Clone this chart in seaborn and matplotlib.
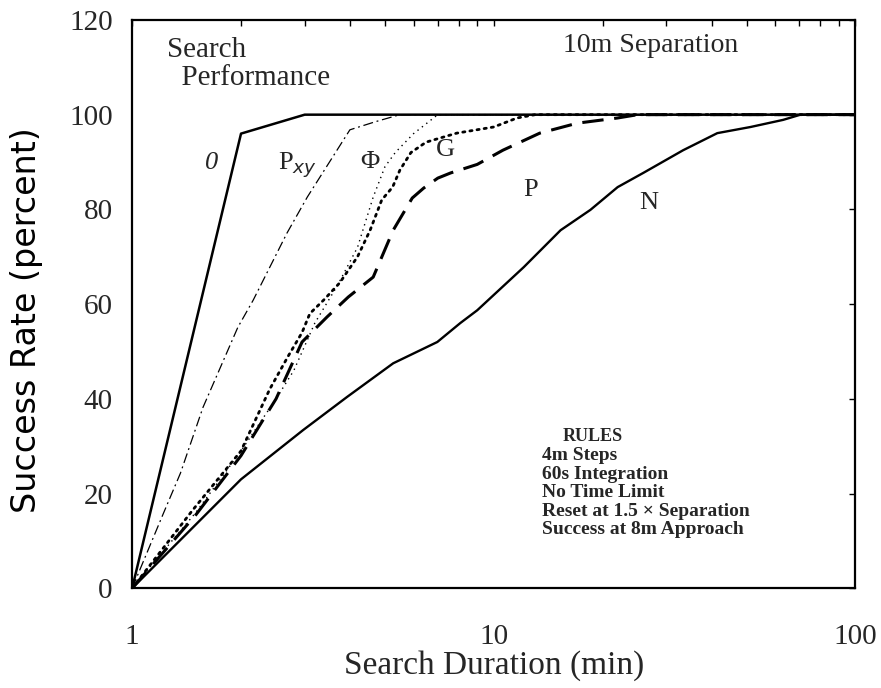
import matplotlib
matplotlib.use("Agg")
import matplotlib.pyplot as plt
import seaborn as sns

sns.set_theme(style="white")
plt.rcParams["font.family"] = ["Liberation Serif", "DejaVu Serif"]

# search duration (min) / success rate (percent)
x_zero = [1, 2.0, 3.0, 100]
y_zero = [0, 96, 100, 100]

x_pxy = [1, 1.22, 1.36, 1.57, 1.96, 2.16, 2.68, 3.05, 4.0, 4.7, 5.5, 100]
y_pxy = [0, 15.8, 24.3, 38.2, 55.1, 60.8, 75, 82.6, 96.8, 98.5, 100, 100]

x_phi = [1, 1.5, 2.0, 2.5, 2.8, 3.2, 3.7, 4.2, 4.64, 5.0, 5.34, 6.0, 7.0, 100]
y_phi = [0, 16, 29, 40, 46, 56, 64, 72, 82.6, 89, 92, 96, 100, 100]

x_g = [1, 1.47, 2.0, 2.4, 2.7, 2.95, 3.1, 3.4, 3.75, 4.2, 4.55, 4.9, 5.25,
       5.5, 5.9, 6.5, 7.9, 10, 11.6, 13, 100]
y_g = [0, 16.5, 29, 42, 49, 54, 58, 61, 64.5, 70, 75.6, 82, 84.7,
       88.3, 92, 94.2, 96.1, 97.4, 99.3, 100, 100]

x_p = [1, 1.5, 2.0, 2.5, 2.95, 3.46, 3.96, 4.64, 5.27, 5.95, 6.4, 7.0, 7.6,
       9.0, 10.6, 13.4, 17, 22, 25, 100]
y_p = [0, 15.5, 28, 40, 52, 57.3, 61.5, 65.7, 75.6, 82.4, 84.5, 86.6, 87.7,
       89.5, 92.5, 96.1, 98.2, 99.3, 100, 100]

x_n = [1, 2.0, 2.97, 3.93, 5.27, 6.98, 8.08, 9.0, 12.1, 15.3, 18.5, 22, 25.9,
       33.4, 41.5, 51.3, 63.1, 70.5, 100]
y_n = [0, 23, 33.4, 40.4, 47.5, 52, 56, 58.7, 67.8, 75.6, 79.9, 84.7, 87.7,
       92.5, 96.1, 97.4, 98.9, 100, 100]

curve_labels = ["0", r"P$_{xy}$", "\u03a6", "G", "P", "N"]
label_x = [1.66, 2.86, 4.55, 7.34, 12.6, 26.8]
label_y = [89.8, 89.4, 90.0, 92.5, 84.1, 81.3]

rules = ["RULES", "4m Steps", "60s Integration", "No Time Limit",
         "Reset at 1.5 \u00d7 Separation", "Success at 8m Approach"]

fig = plt.figure(figsize=(8.81, 6.88), dpi=100)
ax = fig.add_axes([0.150, 0.145, 0.821, 0.826])

sns.lineplot(x=x_zero, y=y_zero, ax=ax, color="black", lw=1.8, sort=False, estimator=None)
sns.lineplot(x=x_pxy, y=y_pxy, ax=ax, color="black", lw=0.9, sort=False, estimator=None,
             linestyle=(0, (8, 3, 1.5, 3)))
sns.lineplot(x=x_phi, y=y_phi, ax=ax, color="black", lw=1.0, sort=False, estimator=None,
             linestyle=(0, (1, 3)))
sns.lineplot(x=x_g, y=y_g, ax=ax, color="black", lw=2.0, sort=False, estimator=None,
             linestyle=(0, (0.8, 1.8)), dash_capstyle="round")
sns.lineplot(x=x_p, y=y_p, ax=ax, color="black", lw=2.2, sort=False, estimator=None,
             linestyle=(0, (7, 3.5)))
sns.lineplot(x=x_n, y=y_n, ax=ax, color="black", lw=1.7, sort=False, estimator=None)

ax.set_xscale("log")
ax.set_xlim(1, 100)
ax.set_ylim(0, 120)
ax.set_xticks([1, 10, 100])
ax.set_xticklabels(["1", "10", "100"])
ax.set_yticks(range(0, 121, 20))

ax.tick_params(axis="x", which="major", length=0, pad=26, labelsize=21)
ax.tick_params(axis="x", which="minor", direction="out", length=4, width=1, color="black")
ax.tick_params(axis="y", left=False, right=True, direction="in", length=4,
               width=1, color="black", pad=14, labelsize=21)

top = ax.secondary_xaxis("top")
top.tick_params(axis="x", which="both", direction="in", length=4, width=1,
                color="black", labeltop=False)
top.set_xticklabels([])
top.spines["top"].set_visible(False)

for s in ax.spines.values():
    s.set_color("black")
    s.set_linewidth(1.6)

ax.set_xlabel("Search Duration (min)", fontsize=24, labelpad=0)
ax.set_ylabel("")
fig.text(0.030, 0.535, "Success Rate (percent)", rotation=90, fontsize=24,
         ha="center", va="center", family=["DejaVu Sans"], color="black")

ax.text(1.25, 116.5, "Search\n  Performance", fontsize=21, va="top", ha="left",
        linespacing=1.1)
ax.text(15.5, 114.5, "10m Separation", fontsize=20, va="center", ha="left")

for i, lab in enumerate(curve_labels):
    style = "italic" if lab == "0" else "normal"
    ax.text(label_x[i], label_y[i], lab, fontsize=19, ha="center", va="center",
            style=style)

ax.text(18.8, 32.0, rules[0], fontsize=13, ha="center", va="center", weight="bold")
for i, line in enumerate(rules[1:]):
    ax.text(13.6, 28.0 - 3.9 * i, line, fontsize=14, ha="left", va="center",
            weight="bold")

fig.savefig("out.png", dpi=100, facecolor="white")
